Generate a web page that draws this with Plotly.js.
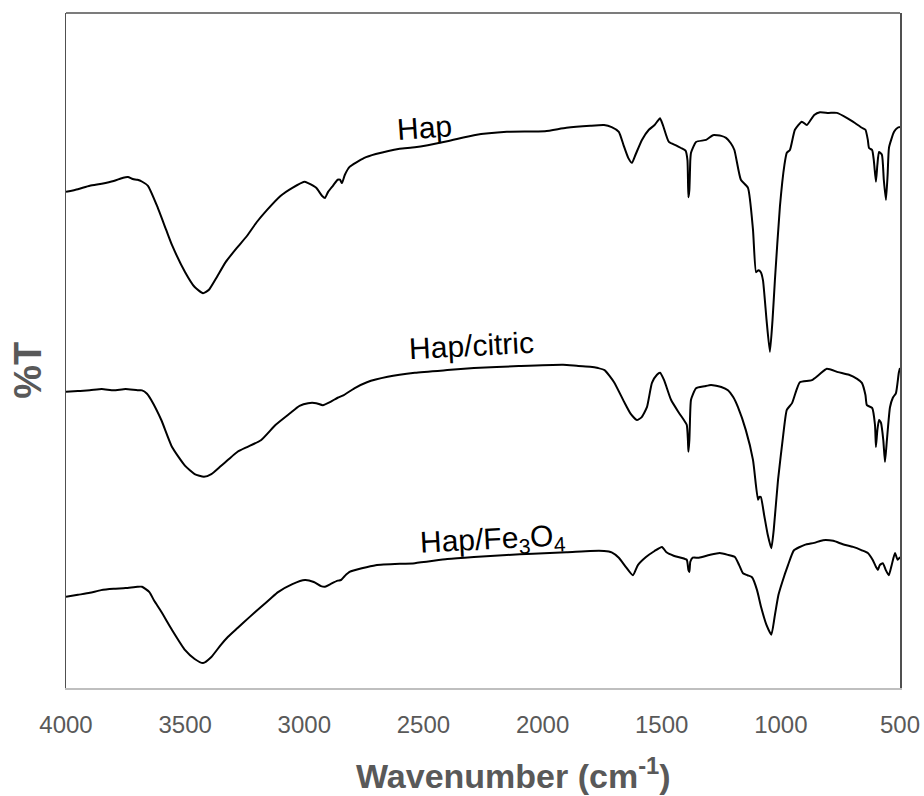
<!DOCTYPE html>
<html>
<head>
<meta charset="utf-8">
<script src="https://cdn.plot.ly/plotly-3.0.1.min.js"></script>
<style>html,body{margin:0;padding:0;background:#fff;}#chart{width:924px;height:796px;}</style>
</head>
<body>
<div id="chart"></div>
<script>
// Wavenumber (cm-1) and %T (arbitrary offset scale) for each spectrum
var hapWn = [4000,3950,3900,3850,3800,3760,3740,3720,3700,3680,3656,3620,3580,3555,3500,3460,3425,3400,3370,3330,3283,3240,3200,3157,3100,3050,3000,2984,2950,2925,2913,2900,2880,2860,2850,2842,2830,2810,2750,2700,2600,2536,2400,2288,2150,1990,1900,1800,1742,1710,1680,1660,1640,1625,1610,1583,1554,1530,1515,1507,1495,1470,1440,1419,1400,1392,1388,1384,1380,1377,1356,1314,1285,1250,1230,1210,1195,1168,1138,1117,1104,1094,1084,1075,1060,1046,1035,1025,1004,985,975,962,941,912,891,860,836,800,765,720,689,660,645,635,630,617,610,601,595,588,576,568,559,552,546,525,510,500];
var hapT = [73.5,73.9,74.4,74.7,75.1,75.6,75.7,75.4,75.3,75.0,74.4,71.6,67.9,65.6,61.6,59.4,58.5,59.0,60.7,63.1,65.2,67.0,69.0,70.8,72.9,74.1,75.0,74.8,74.1,72.9,72.6,73.5,74.4,75.3,75.3,74.8,76.0,77.2,78.5,79.1,79.9,80.1,81.0,81.9,82.4,82.5,83.0,83.3,83.4,83.1,82.4,80.4,78.5,77.8,79.0,81.2,82.7,83.4,84.1,84.4,83.4,80.9,80.4,80.0,79.6,78.2,72.7,73.8,78.2,79.3,80.9,81.2,81.9,81.8,81.5,80.7,79.7,75.3,74.1,67.9,61.6,61.9,61.6,60.4,54.5,49.8,54.5,60.4,71.3,77.5,79.3,79.7,82.7,83.9,83.4,84.9,85.3,85.2,85.2,84.4,83.7,83.0,82.7,81.2,80.0,79.7,78.2,75.0,77.5,79.4,79.0,75.3,72.3,76.0,80.1,82.4,83.0,83.1];

var citWn = [4000,3950,3900,3850,3800,3750,3700,3681,3660,3643,3600,3555,3500,3460,3421,3390,3350,3320,3280,3240,3182,3120,3060,3020,2984,2950,2922,2890,2860,2834,2790,2737,2650,2536,2400,2288,2100,1914,1850,1800,1767,1740,1700,1658,1630,1604,1585,1562,1541,1520,1507,1490,1461,1430,1407,1395,1390,1388,1384,1380,1377,1356,1320,1293,1250,1222,1200,1180,1147,1117,1096,1090,1084,1070,1055,1040,1030,1012,990,975,953,935,920,870,840,807,760,714,680,660,645,639,617,605,601,595,588,580,570,563,555,542,530,517,505,500];
var citT = [43.9,44.0,44.1,44.3,44.1,44.3,44.1,44.1,43.6,42.7,39.7,35.7,32.9,31.7,31.3,31.7,32.9,33.8,35.0,35.7,36.7,39.0,40.7,41.8,42.2,42.2,41.9,42.4,43.0,43.4,44.4,45.3,46.1,46.7,47.1,47.4,47.7,47.9,47.7,47.6,47.4,47.1,45.3,42.4,40.6,39.7,40.1,41.6,45.2,46.4,46.7,45.6,42.7,40.9,39.7,39.0,36.7,35.0,36.7,41.2,42.7,44.4,44.7,44.9,44.6,44.1,43.1,41.6,38.2,33.8,27.9,28.3,28.3,25.6,22.7,20.7,23.4,30.8,37.5,41.2,42.2,44.1,45.3,45.6,46.4,47.3,46.8,46.4,45.8,45.2,43.4,41.9,41.5,39.0,35.7,38.2,39.7,39.3,36.7,33.5,36.7,41.6,43.0,43.7,46.7,47.4];

var feWn = [4000,3950,3900,3853,3800,3750,3700,3681,3650,3631,3600,3555,3500,3460,3425,3390,3350,3320,3280,3230,3182,3140,3110,3050,2997,2960,2930,2913,2890,2860,2846,2830,2810,2700,2536,2400,2288,2150,2040,1900,1800,1742,1710,1680,1650,1621,1600,1566,1530,1499,1480,1450,1419,1395,1388,1384,1380,1370,1344,1300,1256,1220,1193,1175,1159,1140,1121,1100,1083,1060,1040,1025,1010,995,970,945,900,860,823,780,740,697,660,635,615,600,593,585,572,560,547,535,521,510,500];
var feT = [13.5,13.8,14.1,14.5,14.7,14.8,15.0,15.0,14.2,13.0,11.3,8.6,5.6,4.3,3.7,4.6,6.4,7.6,8.9,10.5,12.0,13.3,14.2,15.4,16.0,15.7,15.1,15.0,15.4,15.9,16.0,16.6,17.2,18.2,18.5,19.1,19.4,19.7,19.9,20.1,20.3,20.3,20.1,19.3,17.9,16.7,18.2,19.4,20.3,20.9,20.1,19.6,19.3,19.0,17.5,17.2,18.7,19.3,19.3,19.7,20.0,19.7,19.4,18.2,17.0,16.7,16.4,14.5,12.0,9.3,7.9,10.8,13.8,15.6,18.2,20.4,21.2,21.5,21.9,21.8,21.3,20.9,20.4,20.0,19.0,17.9,17.5,18.2,18.5,17.5,16.7,18.2,20.0,19.0,19.4];

var xTicks = [4000,3500,3000,2500,2000,1500,1000,500];
var seriesNames = ["Hap", "Hap/citric", "Hap/Fe<sub>3</sub>O<sub>4</sub>"];

var lineStyle = {color: "#000000", width: 2, shape: "spline", smoothing: 0.5};
var traces = [
  {x: hapWn, y: hapT, name: seriesNames[0]},
  {x: citWn, y: citT, name: seriesNames[1]},
  {x: feWn, y: feT, name: seriesNames[2]}
].map(function (t) {
  return Object.assign({type: "scatter", mode: "lines", line: lineStyle, hoverinfo: "x+y"}, t);
});

var gray = "#595959";
var labelFont = {size: 30, color: "#000000", family: "Liberation Sans, Arial, sans-serif"};
var layout = {
  width: 924, height: 796,
  margin: {l: 66, r: 24, t: 13, b: 108},
  paper_bgcolor: "#ffffff", plot_bgcolor: "#ffffff",
  showlegend: false,
  font: {family: "Liberation Sans, Arial, sans-serif", color: gray},
  xaxis: {
    range: [4000, 500], tickvals: xTicks, ticktext: xTicks.map(String),
    showgrid: false, zeroline: false, ticks: "",
    showline: true, linecolor: "#bfbfbf", linewidth: 1.5, mirror: false,
    tickfont: {size: 24, color: gray}, ticklabelstandoff: 15
  },
  yaxis: {
    range: [0, 100], showticklabels: false, showgrid: false, zeroline: false, ticks: "",
    showline: true, linecolor: "#505050", linewidth: 1.5, mirror: true
  },
  shapes: [
    {type: "line", xref: "paper", yref: "paper", x0: 0, x1: 1, y0: 1, y1: 1, line: {color: "#505050", width: 1.5}}
  ],
  annotations: [
    {text: seriesNames[0], x: 2494, y: 83.1, xref: "x", yref: "y", showarrow: false, textangle: -4, font: labelFont},
    {text: seriesNames[1], x: 2300, y: 50.7, xref: "x", yref: "y", showarrow: false, textangle: -3, font: labelFont},
    {text: seriesNames[2], x: 2212, y: 21.9, xref: "x", yref: "y", showarrow: false, textangle: -3, font: labelFont},
    {text: "Wavenumber (cm<sup>-1</sup>)", x: 0.5, xref: "paper", xanchor: "center", xshift: 30, y: 0, yref: "paper", yanchor: "top", yshift: -62, showarrow: false, font: {size: 34, color: gray, family: "Liberation Sans, Arial, sans-serif", weight: "bold"}},
    {text: "<b>%T</b>", x: 0, xref: "paper", xanchor: "center", xshift: -38, y: 0.47, yref: "paper", yanchor: "middle", showarrow: false, textangle: -90, font: {size: 38, color: gray}}
  ]
};

Plotly.newPlot("chart", traces, layout, {displayModeBar: false, staticPlot: true});
</script>
</body>
</html>
